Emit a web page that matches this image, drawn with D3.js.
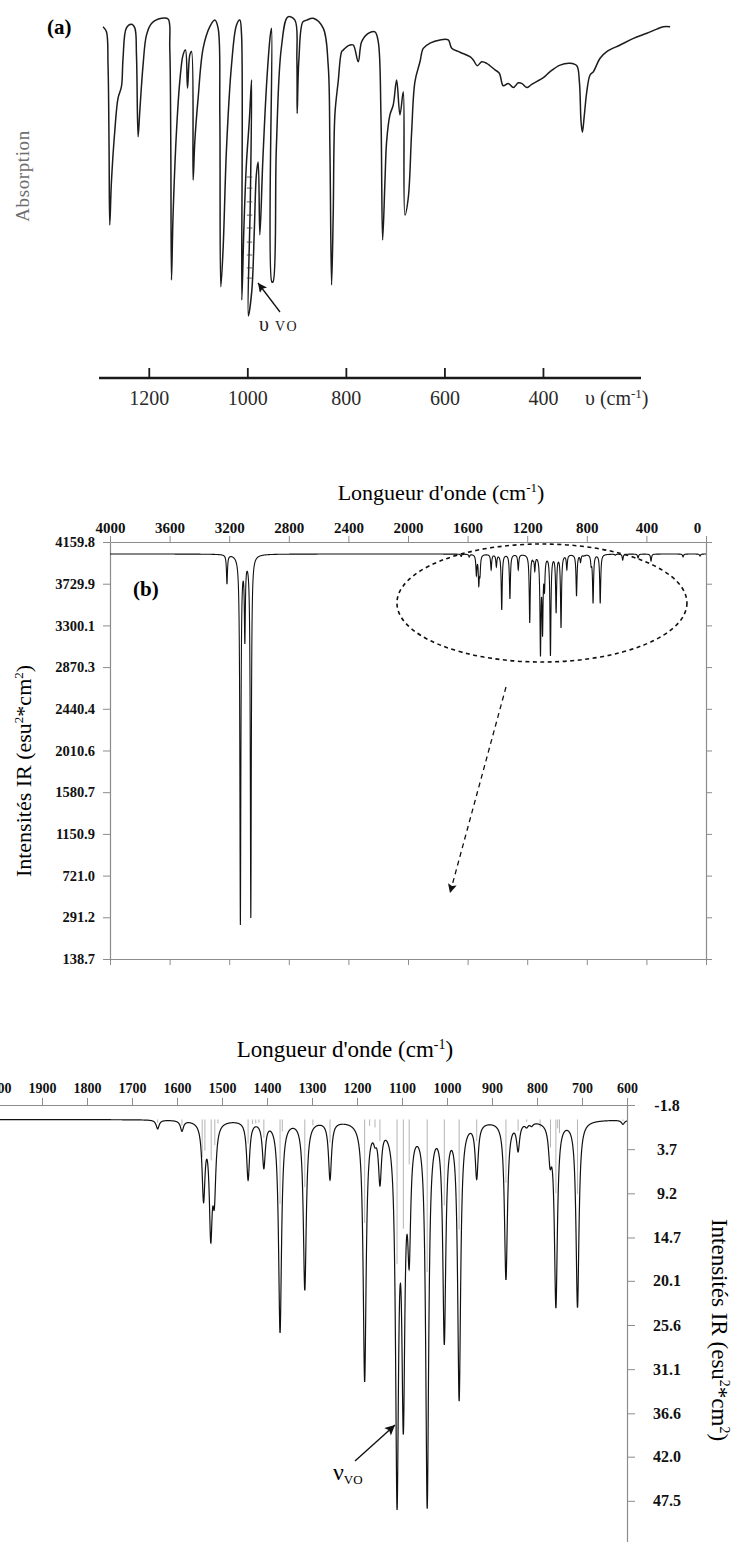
<!DOCTYPE html>
<html lang="fr">
<head>
<meta charset="UTF-8">
<script src="https://cdn.jsdelivr.net/npm/d3@7"></script>
<title>Spectres IR</title>
<style>
    body { margin: 0; background: #fff; }
    svg text { font-family: "Liberation Serif", "Times New Roman", "DejaVu Serif", serif; }
    .gray-axis path, .gray-axis line { stroke: #8c8c8c; }
    .gray-axis text { fill: #111; font-weight: bold; }
</style>
</head>
<body>
<svg id="fig" width="735" height="1542"></svg>
<script>
// ---------- (a) experimental spectrum, hand drawn trace: [wavenumber, absorption]
const aTrace = [
    [1293.8, 3.9], [1286.9, 5.6], [1283.7, 16.7], [1281.6, 44.3], [1280.2, 70], [1276.8, 55.6],
    [1270.1, 38.9], [1263.4, 27.7], [1256.5, 23.9], [1253.2, 14.3], [1246.3, 4.3], [1236.2, 3.1],
    [1229.4, 4.3], [1226, 13.3], [1222.7, 40.6], [1219.3, 32.2], [1212.6, 16.7], [1205.7, 6.7],
    [1195.5, 2.8], [1175.2, 1.1], [1161.8, 1.3], [1158.4, 11], [1156.3, 44.3], [1154.9, 88.3],
    [1151.7, 66.7], [1144.8, 38.9], [1138.1, 22.2], [1131.4, 13.3], [1126.5, 11.7], [1122.4, 24.4],
    [1117.7, 13.3], [1114.3, 12.2], [1111, 55], [1107.6, 42.2], [1100.9, 27.8], [1090.7, 11.1],
    [1077.1, 3.9], [1067, 1.7], [1060.3, 4.4], [1056.8, 33.3], [1054.8, 90.6], [1050.1, 77.7],
    [1043.2, 44.3], [1033.1, 16.7], [1022.9, 3.3], [1016.2, 1.7], [1012.7, 6.7], [1012.2, 95],
    [1008.1, 71.7], [1003.0, 50], [996.9, 35], [992.4, 21.7], [994.9, 61.7], [998.9, 100.3],
    [991.8, 91.7], [986.8, 71.7], [982.7, 53.3], [979.0, 49], [975.6, 73.3], [969.5, 48.3],
    [961.4, 21.7], [954.3, 6.7], [951.8, 4.4],
    [951.2, 89], [948.9, 89], [942.1, 44.3], [932, 11], [918.6, 0.6], [904.5, 1.7], [900.4, 15],
    [899.8, 32.8], [896.4, 15], [888.3, 2.3], [880.7, 1.7], [867.3, 1.1], [847, 4.4], [836.9, 16.7],
    [833.4, 44.3], [830, 90], [826.7, 66.7], [823.3, 33.3], [816.6, 22.2], [809.6, 12.2],
    [806.4, 11.7], [799.5, 10.6], [792.8, 10], [786, 10], [775.9, 15.6], [769, 8.9], [755.6, 6.1],
    [742, 5.6], [735.3, 8.9], [729.8, 33.3], [726.4, 75], [721.7, 55.6], [718.3, 42.2],
    [711.6, 33.3], [704.9, 30], [698, 21.7], [691.2, 33.3], [684.5, 25.6], [681.1, 66.7],
    [674.4, 61], [667.5, 38.9], [660.8, 22.2], [650.6, 15.6], [643.9, 11.1], [630.3, 9.4],
    [610, 8.3], [593.2, 8.3], [586.2, 11.1], [569.4, 12.4], [549.1, 13.9], [542.4, 15],
    [534.3, 16.9], [525.3, 15.6], [515.2, 16.1], [498.3, 18.3], [489.6, 19.4], [481.5, 23.6],
    [471.3, 22.8], [461.1, 24.2], [451, 22.6], [444.1, 22.8], [433.9, 24.2], [423.8, 23.1],
    [400.2, 20.9], [386.6, 18.9], [366.3, 16.7], [346, 16.1], [332.4, 16.9], [327.1, 22.2],
    [323.7, 35.6], [321, 39.1], [317, 33.3], [312.1, 25.6], [305.4, 20], [298.7, 18.9],
    [285.1, 14.4], [271.5, 12.2], [244.4, 10], [217.4, 7.8], [190.2, 6.1], [169.9, 4.7],
    [156.5, 3.9], [142.9, 3.9]
];
// hatching of the v(VO) band: absorption levels, band edges in cm-1
const aHatchLevels = [54, 57.7, 62.3, 66.7, 71, 75.7, 80, 84.3, 87.7];
const aHatchFrom = 1002;
const aHatchTo = 991;
const aTicks = [1200, 1000, 800, 600, 400];

// ---------- (b)/(c) computed spectrum: normal modes (cm-1) and Lorentzian amplitudes
const modeFreq = [3215, 3125, 3095, 3055,
    1643, 1589, 1541, 1525, 1517, 1442, 1407, 1371, 1316, 1260, 1183, 1160, 1149,
    1111, 1097, 1084, 1044, 1006, 973, 934, 869, 842, 823, 812, 771, 758, 710, 609,
    559, 456, 369, 154, 40];
const modeAmp = [13.8, 175, 38, 172,
    1.1, 1.3, 9.3, 13.1, 8.2, 7.3, 5.6, 26.3, 21, 7.2, 32.2, 1.2, 6.8,
    45.3, 34.1, 14, 47.5, 26.8, 34.3, 6.8, 19.7, 3.4, 0.5, 0.4, 4, 22.9, 23.2, 0.5,
    2.8, 1.9, 3.3, 1.4, 1];
const lineWidth = 4; // half width at half maximum, cm-1

// stick spectrum (grey bars)
const stickFreq = [1643, 1589, 1544, 1538, 1524, 1516, 1509, 1442, 1432, 1425, 1418, 1407,
    1371, 1366, 1316, 1298, 1260, 1183, 1172, 1160, 1149, 1111, 1097, 1084, 1044, 1006, 973,
    934, 869, 842, 823, 793, 770, 758, 754, 750, 710, 609];
const stickInt = [0.4, 0.75, 4.7, 3.9, 5.1, 3.2, 0.5, 3, 0.6, 0.5, 0.4, 2.3,
    10.5, 1.5, 8.4, 0.75, 2.9, 12.9, 0.8, 1, 2.7, 18, 13.6, 5.6, 19, 10.7, 13.7,
    2.7, 7.9, 1.4, 0.3, 1, 3.5, 9.2, 1.1, 1.7, 9.3, 0.2];

// panel (b) axis
const bTicksX = [4000, 3600, 3200, 2800, 2400, 2000, 1600, 1200, 800, 400, 0];
const bTicksY = [4159.8, 3729.9, 3300.1, 2870.3, 2440.4, 2010.6, 1580.7, 1150.9, 721.0, 291.2, -138.7];
const bTickLabelsY = ["4159.8", "3729.9", "3300.1", "2870.3", "2440.4", "2010.6", "1580.7", "1150.9", "721.0", "291.2", "138.7"];
const bBaseline = 4036;   // plotted level of zero intensity in panel (b)
const bPerUnit = 21.7;    // panel (b) units per panel (c) unit

// panel (c) axis
const cTicksX = [2000, 1900, 1800, 1700, 1600, 1500, 1400, 1300, 1200, 1100, 1000, 900, 800, 700, 600];
const cTicksY = [-1.8, 3.7, 9.2, 14.7, 20.1, 25.6, 31.1, 36.6, 42.0, 47.5];
const cTickLabelsY = ["-1.8", "3.7", "9.2", "14.7", "20.1", "25.6", "31.1", "36.6", "42.0", "47.5"];

const svg = d3.select("#fig");
const defs = svg.append("defs");
const mkArrow = (id, w, h) => {
    defs.append("marker").attr("id", id)
        .attr("viewBox", "0 0 10 10").attr("refX", 10).attr("refY", 5)
        .attr("markerUnits", "userSpaceOnUse")
        .attr("markerWidth", w).attr("markerHeight", h).attr("orient", "auto")
        .append("path").attr("d", "M0,0 L10,5 L0,10 L2,5 z").attr("fill", "#111");
};
mkArrow("arrA", 14, 9);
mkArrow("arrB", 20, 9);
mkArrow("arrC", 16, 10);

// ======================= panel (a)
const xA = d3.scaleLinear().domain([1300, 200]).range([100, 642]);
const yA = d3.scaleLinear().domain([0, 100]).range([15, 315]);
const gA = svg.append("g");

gA.append("path")
    .datum(aTrace)
    .attr("fill", "none")
    .attr("stroke", "#1c1c1c")
    .attr("stroke-width", 1.5)
    .attr("stroke-linejoin", "round")
    .attr("d", d3.line().x(d => xA(d[0])).y(d => yA(d[1])).curve(d3.curveCatmullRom.alpha(0.5)));

gA.selectAll(".hatch")
    .data(aHatchLevels)
    .enter().append("line")
    .attr("x1", xA(aHatchFrom)).attr("x2", xA(aHatchTo))
    .attr("y1", d => yA(d)).attr("y2", d => yA(d))
    .attr("stroke", "#333").attr("stroke-width", 0.8);

// axis of (a)
const aAxisY = 378;
gA.append("line")
    .attr("x1", xA(1302)).attr("x2", xA(202))
    .attr("y1", aAxisY).attr("y2", aAxisY)
    .attr("stroke", "#1a1a1a").attr("stroke-width", 2.6);
gA.selectAll(".atick")
    .data(aTicks)
    .enter().append("line")
    .attr("x1", d => xA(d)).attr("x2", d => xA(d))
    .attr("y1", aAxisY - 10).attr("y2", aAxisY)
    .attr("stroke", "#1a1a1a").attr("stroke-width", 1.8);
gA.selectAll(".alab")
    .data(aTicks)
    .enter().append("text")
    .attr("x", d => xA(d)).attr("y", 405)
    .attr("text-anchor", "middle")
    .attr("font-size", 20).attr("fill", "#2a2a2a")
    .text(d => d);
gA.append("text").attr("x", 585).attr("y", 405)
    .attr("font-size", 20).attr("fill", "#2a2a2a")
    .html('υ (cm<tspan dy="-7" font-size="13">-1</tspan><tspan dy="7">)</tspan>');

gA.append("text").attr("x", 47).attr("y", 34)
    .attr("font-size", 21).attr("font-weight", "bold").text("(a)");
gA.append("text")
    .attr("transform", "translate(29,176) rotate(-90)")
    .attr("text-anchor", "middle")
    .attr("font-size", 19).attr("fill", "#6e6e6e").attr("letter-spacing", 0.6)
    .text("Absorption");

// v(VO) annotation
gA.append("line")
    .attr("x1", 280).attr("y1", 312).attr("x2", 258).attr("y2", 283)
    .attr("stroke", "#111").attr("stroke-width", 1.3)
    .attr("marker-end", "url(#arrA)");
gA.append("text").attr("x", 259).attr("y", 331)
    .attr("font-size", 20).attr("fill", "#222")
    .html('υ<tspan dx="6" font-size="14" letter-spacing="1.5">VO</tspan>');

// ======================= shared envelope
const envelope = v => {
    let s = 0;
    for (let i = 0; i < modeFreq.length; i++) {
        const d = v - modeFreq[i];
        s += modeAmp[i] * lineWidth * lineWidth / (d * d + lineWidth * lineWidth);
    }
    return s;
};

// ======================= panel (b)
const xB = d3.scaleLinear().domain([4000, 0]).range([110, 706]);
const yB = d3.scaleLinear().domain([4159.8, -138.7]).range([542, 959]);
const gB = svg.append("g");

gB.append("g").attr("class", "gray-axis")
    .attr("transform", `translate(0,${yB(4159.8)})`)
    .call(d3.axisTop(xB).tickValues(bTicksX).tickSize(6).tickSizeOuter(0).tickPadding(3)
        .tickFormat(d3.format("d")))
    .call(g => g.selectAll("text").attr("font-size", 15))
    .call(g => g.selectAll(".tick").filter(d => d === 0).select("text").attr("dx", -9));
gB.append("g").attr("class", "gray-axis")
    .attr("transform", `translate(0,${yB(-138.7)})`)
    .call(d3.axisBottom(xB).tickValues(bTicksX).tickSize(6).tickSizeOuter(0).tickFormat(""));
gB.append("g").attr("class", "gray-axis")
    .attr("transform", `translate(${xB(4000)},0)`)
    .call(d3.axisLeft(yB).tickValues(bTicksY).tickSize(7).tickSizeOuter(0).tickPadding(8)
        .tickFormat((d, i) => bTickLabelsY[i]))
    .call(g => g.selectAll("text").attr("font-size", 14.5));
gB.append("g").attr("class", "gray-axis")
    .attr("transform", `translate(${xB(0)},0)`)
    .call(d3.axisRight(yB).tickValues(bTicksY).tickSize(6).tickSizeOuter(0).tickFormat(""));
gB.selectAll(".gray-axis path").attr("stroke-width", 1.2);

const bPts = d3.range(4000, -0.01, -0.5).map(v => [v, bBaseline - bPerUnit * envelope(v)]);
gB.append("path")
    .datum(bPts)
    .attr("fill", "none").attr("stroke", "#111").attr("stroke-width", 1.1)
    .attr("d", d3.line().x(d => xB(d[0])).y(d => yB(d[1])));

gB.append("text").attr("x", 441).attr("y", 500)
    .attr("text-anchor", "middle").attr("font-size", 22)
    .html('Longueur d\'onde (cm<tspan dy="-8" font-size="13">-1</tspan><tspan dy="8">)</tspan>');
gB.append("text")
    .attr("transform", "translate(31,771) rotate(-90)")
    .attr("text-anchor", "middle").attr("font-size", 22)
    .html('Intensités IR (esu<tspan dy="-8" font-size="13">2</tspan><tspan dy="8">*cm</tspan><tspan dy="-8" font-size="13">2</tspan><tspan dy="8">)</tspan>');
gB.append("text").attr("x", 133).attr("y", 596)
    .attr("font-size", 21).attr("font-weight", "bold").text("(b)");

gB.append("ellipse")
    .attr("cx", xB(1101)).attr("cy", yB(3531))
    .attr("rx", 145).attr("ry", 59)
    .attr("fill", "none").attr("stroke", "#111").attr("stroke-width", 1.6)
    .attr("stroke-dasharray", "4,3.5");
gB.append("line")
    .attr("x1", 506).attr("y1", 687).attr("x2", 450).attr("y2", 893)
    .attr("stroke", "#111").attr("stroke-width", 1.3)
    .attr("stroke-dasharray", "5,4")
    .attr("marker-end", "url(#arrB)");

// ======================= panel (c)
const xC = d3.scaleLinear().domain([2000, 600]).range([-3, 627]);
const yC = d3.scaleLinear().domain([-1.8, 53.0]).range([1105, 1545]);
const gC = svg.append("g");

gC.append("g").attr("class", "gray-axis")
    .attr("transform", `translate(0,${yC(-1.8)})`)
    .call(d3.axisTop(xC).tickValues(cTicksX).tickSize(7).tickSizeOuter(0).tickPadding(5)
        .tickFormat(d3.format("d")))
    .call(g => g.selectAll("text").attr("font-size", 14));
gC.append("g").attr("class", "gray-axis")
    .attr("transform", `translate(${xC(600)},0)`)
    .call(d3.axisRight(yC).tickValues(cTicksY).tickSize(8).tickSizeOuter(0).tickPadding(32)
        .tickFormat((d, i) => cTickLabelsY[i]))
    .call(g => g.selectAll("text").attr("font-size", 16).attr("text-anchor", "middle"));
gC.selectAll(".gray-axis path").attr("stroke-width", 1.2);

gC.selectAll(".stick")
    .data(stickFreq)
    .enter().append("line")
    .attr("x1", d => xC(d)).attr("x2", d => xC(d))
    .attr("y1", yC(0)).attr("y2", (d, i) => yC(stickInt[i]))
    .attr("stroke", "#b4b4b4").attr("stroke-width", 1);

const cPts = d3.range(2000, 599.9, -0.25).map(v => [v, envelope(v)]);
gC.append("path")
    .datum(cPts)
    .attr("fill", "none").attr("stroke", "#111").attr("stroke-width", 1.2)
    .attr("d", d3.line().x(d => xC(d[0])).y(d => yC(d[1])));

gC.append("text").attr("x", 345).attr("y", 1057)
    .attr("text-anchor", "middle").attr("font-size", 23)
    .html('Longueur d\'onde  (cm<tspan dy="-8" font-size="14">-1</tspan><tspan dy="8">)</tspan>');
gC.append("text")
    .attr("transform", "translate(712,1330) rotate(90)")
    .attr("text-anchor", "middle").attr("font-size", 23)
    .html('Intensités IR (esu<tspan dy="-8" font-size="14">2</tspan><tspan dy="8">*cm</tspan><tspan dy="-8" font-size="14">2</tspan><tspan dy="8">)</tspan>');

gC.append("line")
    .attr("x1", 355).attr("y1", 1461).attr("x2", 395).attr("y2", 1425)
    .attr("stroke", "#111").attr("stroke-width", 1.4)
    .attr("marker-end", "url(#arrC)");
gC.append("text").attr("x", 333).attr("y", 1480)
    .attr("font-size", 24)
    .html('ν<tspan dy="4" font-size="13">VO</tspan>');
</script>
</body>
</html>
